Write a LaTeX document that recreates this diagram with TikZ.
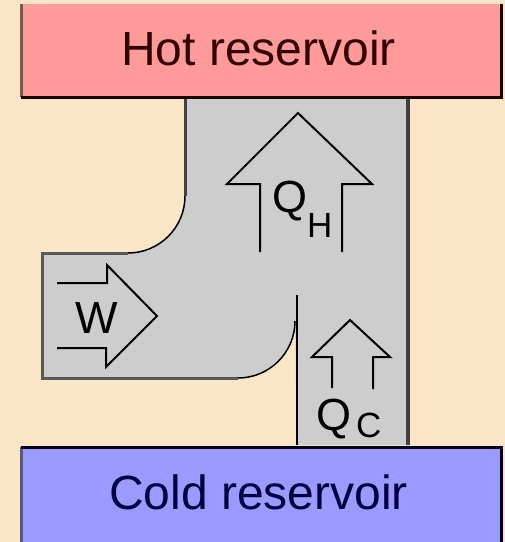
\documentclass[tikz,border=0pt]{standalone}
\usepackage{fontspec}
\setmainfont{Liberation Sans}
\definecolor{cream}{HTML}{FAE5C6}
\definecolor{hotfill}{HTML}{FF9A9A}
\definecolor{coldfill}{HTML}{9A9AFF}
\definecolor{pipe}{HTML}{CDCDCD}
\definecolor{hotedge}{HTML}{7A5A50}
\definecolor{coldedge}{HTML}{5A5A70}
\begin{document}
\begin{tikzpicture}[x=1pt,y=-1pt,
  lbl/.style={inner sep=0pt,font=\fontsize{48}{48}\selectfont},
  qsym/.style={inner sep=0pt,font=\fontsize{45}{45}\selectfont},
  qsub/.style={inner sep=0pt,font=\fontsize{35}{35}\selectfont},
  flow/.style={draw=black,line width=2pt,line join=miter},
  rim/.style={line width=3pt},
]
% background
\fill[cream] (0,0) rectangle (505,542);
\useasboundingbox (0,0) rectangle (505,542);

% working fluid channel
\fill[pipe] (185,98) -- (185,196) arc[start angle=0,end angle=90,radius=57]
  -- (42,253) -- (42,378) -- (238,378)
  arc[start angle=90,end angle=0,radius=57] -- (295,321)
  -- (297,445) -- (408,445) -- (408,98) -- cycle;
\draw[rim,draw=black!75] (185,98) -- (185,196);
\draw[line width=1.5pt] (185,196) arc[start angle=0,end angle=90,radius=57];
\draw[rim,draw=black!65] (128,253) -- (42,253) -- (42,378) -- (238,378);
\draw[line width=1.5pt] (238,378) arc[start angle=90,end angle=0,radius=57];
\draw[line width=1.8pt] (297,295) -- (297,445);
\draw[line width=4pt,draw=black!75] (408,98) -- (408,445);

% reservoirs
\fill[hotfill] (21,4) rectangle (501,97);
\draw[rim,draw=hotedge] (21,4) -- (21,97);
\draw[rim,draw=black!90!red] (21,97) -- (501,97) -- (501,4);
\node[lbl,anchor=base,text=black!80!red] (hot) at (258.5,65) {Hot reservoir};

\fill[coldfill] (21,447) rectangle (501,542);
\draw[rim,draw=coldedge] (21,447) -- (21,542);
\draw[rim,draw=black!90!blue] (21,447) -- (501,447) -- (501,542);
\node[lbl,anchor=base,text=black!75!blue] (cold) at (258.5,509) {Cold reservoir};

% heat and work arrows
\draw[flow] (260,252) -- (260,184) -- (227,184) -- (298,113) -- (372,184) -- (342,184) -- (342,252);
\node[qsym,anchor=base west] (qh) at (272,212) {Q};
\node[qsub,anchor=base west] (qhs) at (307,237) {H};

\draw[flow] (57,283) -- (107,283) -- (107,265) -- (157,316) -- (106,367) -- (106,348) -- (57,348);
\node[qsym,anchor=base] (w) at (97,333) {W};

\draw[flow] (332,388) -- (332,357) -- (312,357) -- (350,320) -- (390,357) -- (373,357) -- (373,389);
\node[qsym,anchor=base west] (qc) at (316,430) {Q};
\node[qsub,anchor=base west] (qcs) at (356,437) {C};
\end{tikzpicture}
\end{document}
